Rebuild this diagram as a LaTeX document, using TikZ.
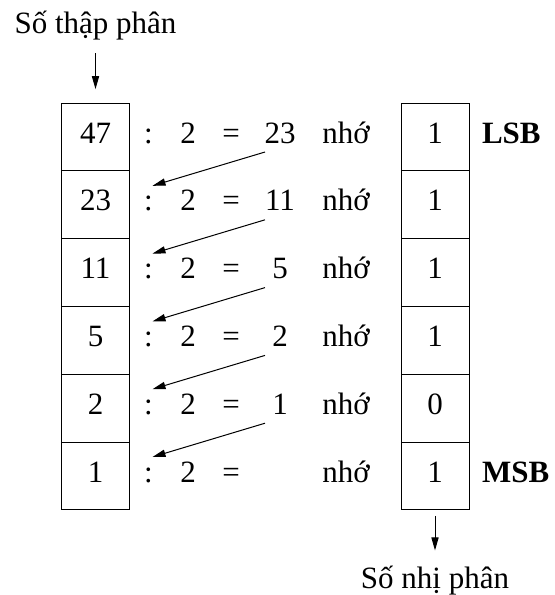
\documentclass[tikz,border=0pt]{standalone}
\usepackage{fontspec}
\setmainfont{Liberation Serif}
\usetikzlibrary{positioning,arrows.meta}

\begin{document}
\begin{tikzpicture}[
  x=0.5pt, y=-0.5pt,
  font=\fontsize{15.5}{18}\selectfont,
  cell/.style={draw, line width=0.5pt, minimum width=34pt, minimum height=33.9pt, inner sep=0pt, outer sep=0pt},
  lbl/.style={text height=1.6ex, text depth=.25ex},
  arrow/.style={-{Triangle[length=6.5pt,width=3.6pt]}, line width=0.5pt}
]
\useasboundingbox (0,0) rectangle (555,595);

% one row per division step: dividend, quotient, remainder
\foreach \i/\n/\q/\r in {1/47/23/1, 2/23/11/1, 3/11/5/1, 4/5/2/1, 5/2/1/0, 6/1//1} {
  \pgfmathsetmacro{\y}{137+(\i-1)*67.8}
  \node[cell, lbl] (d\i) at (95.5,\y) {\n};
  \node[lbl] (c\i) at (148.5,\y) {:};
  \node[lbl] (t\i) at (188,\y) {2};
  \node[lbl] (e\i) at (231,\y) {=};
  \node[lbl] (q\i) at (280,\y) {\q};
  \node[lbl] (n\i) at (346,\y) {nhớ};
  \node[cell, lbl] (b\i) at (435,\y) {\r};
}

% quotient goes down to the next row
\foreach \i [evaluate=\i as \j using int(\i+1)] in {1,...,5}
  \draw[arrow] ([shift={(-15,15)}]q\i.center) -- ([shift={(4,-19)}]c\j.center);

% input and output
\node (dec) at (95.5,26) {Số thập phân};
\draw[arrow, shorten <=2.75pt, shorten >=7pt] (dec) -- (d1);
\node (bin) at (435,581) {Số nhị phân};
\draw[arrow, shorten <=3pt, shorten >=4.5pt] (b6) -- (bin);

\node[lbl, right=3pt of b1] (lsb) {\bfseries LSB};
\node[lbl, right=3pt of b6] (msb) {\bfseries MSB};

\end{tikzpicture}
\end{document}
